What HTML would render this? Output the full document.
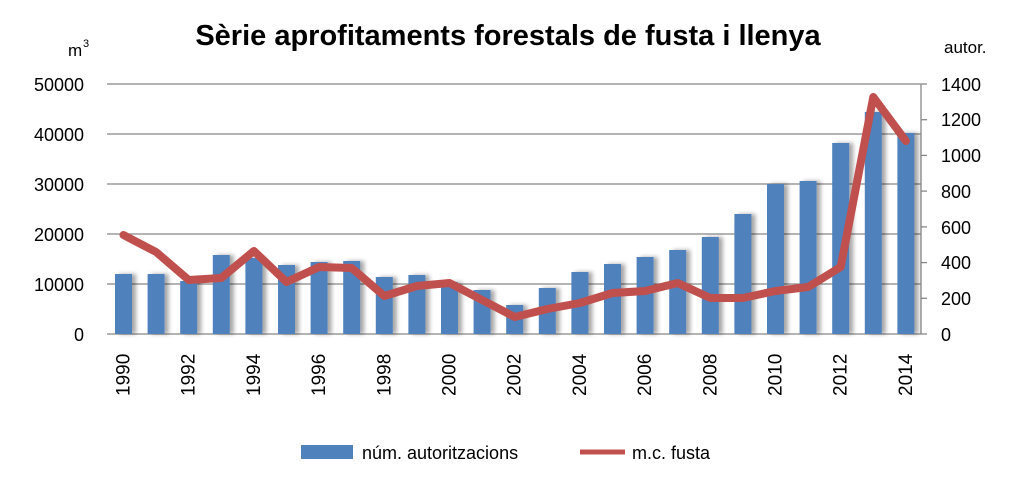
<!DOCTYPE html>
<html><head><meta charset="utf-8"><style>
body{margin:0;background:#fff;width:1024px;height:489px;overflow:hidden}
text{font-family:"Liberation Sans",sans-serif;fill:#000}
</style></head><body>
<svg width="1024" height="489" xmlns="http://www.w3.org/2000/svg">
<defs><filter id="sh" x="-20%" y="-5%" width="170%" height="110%"><feDropShadow dx="4" dy="0" stdDeviation="2" flood-color="#000" flood-opacity="0.35"/></filter></defs>
<text x="508" y="45" font-size="29" font-weight="bold" text-anchor="middle">Sèrie aprofitaments forestals de fusta i llenya</text>
<text x="68" y="56" font-size="17">m</text><text x="83" y="47" font-size="11">3</text>
<text x="944" y="53" font-size="17">autor.</text>
<g stroke="#888" stroke-width="1.3">
<line x1="107" y1="84" x2="921" y2="84"/><line x1="107" y1="134" x2="921" y2="134"/>
<line x1="107" y1="184" x2="921" y2="184"/><line x1="107" y1="234" x2="921" y2="234"/>
<line x1="107" y1="284" x2="921" y2="284"/><line x1="107" y1="334" x2="921" y2="334"/>
<line x1="921" y1="84" x2="921" y2="334"/>
<line x1="921" y1="84" x2="927" y2="84"/><line x1="921" y1="119.7" x2="927" y2="119.7"/>
<line x1="921" y1="155.4" x2="927" y2="155.4"/><line x1="921" y1="191.1" x2="927" y2="191.1"/>
<line x1="921" y1="226.9" x2="927" y2="226.9"/><line x1="921" y1="262.6" x2="927" y2="262.6"/>
<line x1="921" y1="298.3" x2="927" y2="298.3"/><line x1="921" y1="334" x2="927" y2="334"/>
</g>
<g font-size="18" text-anchor="end">
<text x="84" y="91">50000</text><text x="84" y="141">40000</text><text x="84" y="191">30000</text>
<text x="84" y="241">20000</text><text x="84" y="291">10000</text><text x="84" y="341">0</text>
</g>
<g font-size="18">
<text x="941" y="91">1400</text><text x="941" y="126">1200</text><text x="941" y="162">1000</text>
<text x="941" y="198">800</text><text x="941" y="234">600</text><text x="941" y="269">400</text>
<text x="941" y="305">200</text><text x="941" y="341">0</text>
</g>
<g id="bars" fill="#4f81bd" filter="url(#sh)"></g>
<polyline id="ln" fill="none" stroke="#c0504d" stroke-width="8" stroke-linejoin="round" stroke-linecap="round"/>
<g id="yl" font-size="19"></g>
<rect x="301" y="445" width="52" height="14" fill="#4f81bd"/>
<text x="362" y="459" font-size="18">núm. autoritzacions</text>
<line x1="580" y1="452" x2="625" y2="452" stroke="#c0504d" stroke-width="5"/>
<text x="632" y="459" font-size="18">m.c. fusta</text>
<script>
var tops=[274,274,281,255,258,265,262,261,277,275,282,290,305,288,272,264,257,250,237,214,184,181,143,112,133];
var ly=[235,252,280,278,251,282,267,268,296,286,283,300,317,309,303,293,291,283,298,298,291,287,267,97,141];
var b=document.getElementById('bars'),yl=document.getElementById('yl'),pts=[],ns='http://www.w3.org/2000/svg';
for(var i=0;i<25;i++){var cx=123.5+i*32.6;
var r=document.createElementNS(ns,'rect');r.setAttribute('x',cx-8.5);r.setAttribute('y',tops[i]);r.setAttribute('width',17);r.setAttribute('height',334-tops[i]);b.appendChild(r);
pts.push(cx+','+ly[i]);
if(i%2==0){var t=document.createElementNS(ns,'text');t.setAttribute('transform','translate('+(cx+6)+',396) rotate(-90)');t.textContent=1990+i;yl.appendChild(t);}}
document.getElementById('ln').setAttribute('points',pts.join(' '));
</script>
</svg>
</body></html>
